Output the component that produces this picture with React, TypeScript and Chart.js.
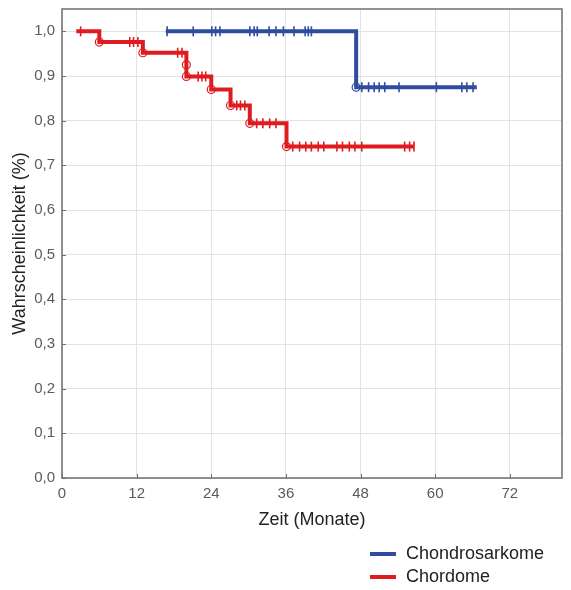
import React, { useEffect, useRef } from "react";
import { Chart, registerables } from "chart.js";

Chart.register(...registerables);

// Axis ticks
const xTickValues = [0, 12, 24, 36, 48, 60, 72];
const yTickValues = [0, 0.1, 0.2, 0.3, 0.4, 0.5, 0.6, 0.7, 0.8, 0.9, 1.0];

// Chondrosarkome: Kaplan-Meier step points (start, events, end of follow-up)
const chondroStepTimes = [16.7, 47.3, 66.7];
const chondroStepSurv = [1.0, 0.875, 0.875];
const chondroCensored = [
  16.9, 21.1, 24.1, 24.7, 25.4, 30.2, 30.9, 31.4, 33.3, 34.4, 35.6, 37.3, 39.1, 39.6, 40.1,
  48.2, 49.3, 50.2, 51.0, 51.9, 54.2, 60.2, 64.3, 65.1, 66.1,
];

// Chordome: Kaplan-Meier step points
const chordStepTimes = [2.3, 6.0, 13.0, 20.0, 20.0, 24.0, 27.1, 30.2, 36.1, 56.6];
const chordStepSurv = [1.0, 0.976, 0.952, 0.925, 0.899, 0.87, 0.834, 0.794, 0.742, 0.742];
const chordCensored = [
  3.0, 10.9, 11.5, 12.2, 18.6, 19.3, 21.9, 22.5, 23.1, 28.1, 28.7, 29.4, 31.3, 32.3, 33.4, 34.4,
  37.1, 38.2, 39.2, 40.1, 41.2, 42.1, 44.2, 45.1, 46.2, 47.1, 48.2, 55.1, 55.9, 56.6,
];

const legendLabels = ["Chondrosarkome", "Chordome"];

const BLUE = "#2f4c9f";
const RED = "#e01b1f";
const FONT = "'Liberation Sans', Arial, sans-serif";

function survivalAt(t: number, times: number[], surv: number[]) {
  let s = surv[0];
  for (let i = 0; i < times.length; i++) {
    if (times[i] <= t) s = surv[i];
  }
  return s;
}

function stepPoints(times: number[], surv: number[]) {
  return times.map((t, i) => ({ x: t, y: surv[i] }));
}

function eventPoints(times: number[], surv: number[]) {
  return times.slice(1, -1).map((t, i) => ({ x: t, y: surv[i + 1] }));
}

function censorPoints(cens: number[], times: number[], surv: number[]) {
  return cens.map((t) => ({ x: t, y: survivalAt(t, times, surv) }));
}

const framePlugin = {
  id: "frame",
  beforeDraw(chart: any) {
    const { ctx, width, height } = chart;
    ctx.save();
    ctx.fillStyle = "#ffffff";
    ctx.fillRect(0, 0, width, height);
    ctx.restore();
  },
  beforeDatasetsDraw(chart: any) {
    const { ctx, chartArea } = chart;
    const { left, right, top, bottom } = chartArea;
    const xs = chart.scales.x;
    const ys = chart.scales.y;
    ctx.save();
    ctx.strokeStyle = "#6e6e6e";
    ctx.lineWidth = 1.5;
    ctx.strokeRect(left, top, right - left, bottom - top);
    ctx.lineWidth = 1;
    ctx.beginPath();
    xTickValues.forEach((v) => {
      const px = Math.round(xs.getPixelForValue(v)) + 0.5;
      ctx.moveTo(px, bottom);
      ctx.lineTo(px, bottom - 4);
    });
    yTickValues.forEach((v) => {
      const py = Math.round(ys.getPixelForValue(v)) + 0.5;
      ctx.moveTo(left, py);
      ctx.lineTo(left + 4, py);
    });
    ctx.stroke();
    ctx.restore();
  },
  afterDraw(chart: any) {
    const { ctx } = chart;
    const colors = [BLUE, RED];
    ctx.save();
    ctx.font = `18px ${FONT}`;
    ctx.textBaseline = "middle";
    ctx.textAlign = "left";
    legendLabels.forEach((label, i) => {
      const y = 554 + i * 23;
      ctx.strokeStyle = colors[i];
      ctx.lineWidth = 4;
      ctx.beginPath();
      ctx.moveTo(370, y);
      ctx.lineTo(396, y);
      ctx.stroke();
      ctx.fillStyle = "#222222";
      ctx.fillText(label, 406, y);
    });
    ctx.restore();
  },
};

export default function App() {
  const canvasRef = useRef<HTMLCanvasElement | null>(null);

  useEffect(() => {
    document.body.style.margin = "0";
    const canvas = canvasRef.current;
    if (!canvas) return;

    const stepLine = (label: string, data: any[], color: string) => ({
      label,
      data,
      borderColor: color,
      borderWidth: 4,
      stepped: "before",
      pointRadius: 0,
      fill: false,
      borderCapStyle: "butt",
      borderJoinStyle: "miter",
    });

    const censorSet = (label: string, data: any[], color: string) => ({
      label,
      data,
      showLine: false,
      pointStyle: "line",
      pointRotation: 90,
      pointRadius: 5,
      pointBorderWidth: 1.6,
      pointBorderColor: color,
      pointBackgroundColor: color,
    });

    const eventSet = (label: string, data: any[], color: string) => ({
      label,
      data,
      showLine: false,
      pointStyle: "circle",
      pointRadius: 4,
      pointBorderWidth: 1.2,
      pointBorderColor: color,
      pointBackgroundColor: "#ffffff",
    });

    const chart = new Chart(canvas, {
      type: "line",
      data: {
        datasets: [
          stepLine(legendLabels[0], stepPoints(chondroStepTimes, chondroStepSurv), BLUE),
          stepLine(legendLabels[1], stepPoints(chordStepTimes, chordStepSurv), RED),
          censorSet("zensiert-1", censorPoints(chondroCensored, chondroStepTimes, chondroStepSurv), BLUE),
          censorSet("zensiert-2", censorPoints(chordCensored, chordStepTimes, chordStepSurv), RED),
          eventSet("ereignis-1", eventPoints(chondroStepTimes, chondroStepSurv), BLUE),
          eventSet("ereignis-2", eventPoints(chordStepTimes, chordStepSurv), RED),
        ] as any,
      },
      options: {
        responsive: false,
        animation: false,
        events: [],
        layout: { padding: { top: 9, right: 9, bottom: 52, left: 0 } },
        plugins: {
          legend: { display: false },
          tooltip: { enabled: false },
        },
        scales: {
          x: {
            type: "linear",
            min: 0,
            max: 80.4,
            afterBuildTicks: (s: any) => {
              s.ticks = xTickValues.map((v) => ({ value: v }));
            },
            afterFit: (s: any) => {
              s.height = 60;
              s.paddingLeft = 0;
              s.paddingRight = 0;
            },
            grid: { color: "#e3e3e3", lineWidth: 1, drawTicks: false },
            border: { display: false },
            ticks: {
              font: { family: FONT, size: 15 },
              color: "#5b5b5b",
              padding: 7,
              maxRotation: 0,
              callback: (v: any) => String(v),
            },
            title: {
              display: true,
              text: "Zeit (Monate)",
              font: { family: FONT, size: 18 },
              color: "#222222",
              padding: { top: 0, bottom: 7 },
            },
          },
          y: {
            type: "linear",
            min: 0,
            max: 1.05,
            afterBuildTicks: (s: any) => {
              s.ticks = yTickValues.map((v) => ({ value: v }));
            },
            afterFit: (s: any) => {
              s.width = 62;
              s.paddingTop = 0;
              s.paddingBottom = 0;
            },
            grid: { color: "#e3e3e3", lineWidth: 1, drawTicks: false },
            border: { display: false },
            ticks: {
              font: { family: FONT, size: 15 },
              color: "#5b5b5b",
              padding: 7,
              callback: (v: any) => Number(v).toFixed(1).replace(".", ","),
            },
            title: {
              display: true,
              text: "Wahrscheinlichkeit (%)",
              font: { family: FONT, size: 18 },
              color: "#222222",
              padding: { top: 9, bottom: 0 },
            },
          },
        },
      },
      plugins: [framePlugin],
    });

    return () => chart.destroy();
  }, []);

  return <canvas ref={canvasRef} width={571} height={590} style={{ display: "block" }} />;
}
